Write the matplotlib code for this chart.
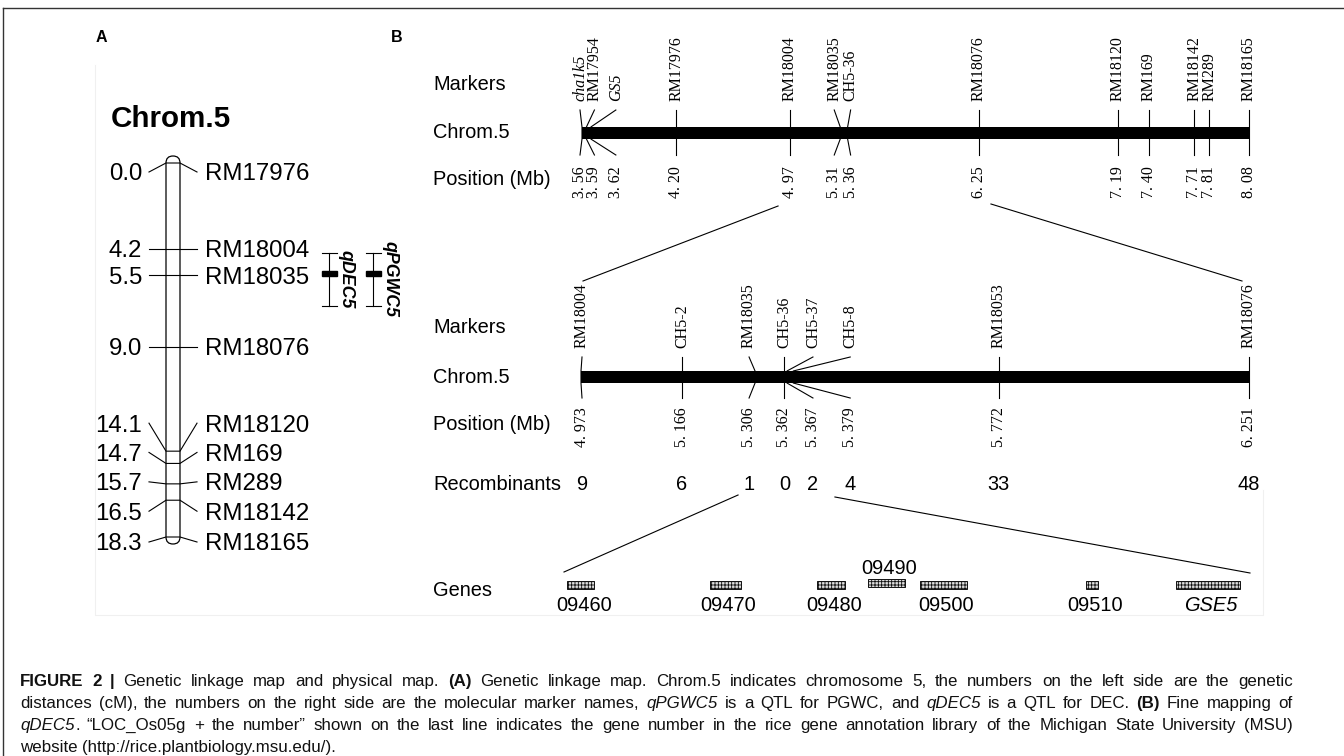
import matplotlib.pyplot as plt
from matplotlib.patches import Rectangle, FancyBboxPatch

W, H = 1344, 756
SANS  = ["Liberation Sans", "DejaVu Sans"]
SERIF = ["Liberation Serif", "DejaVu Serif"]

plt.rcParams["font.family"]     = SANS
plt.rcParams["hatch.linewidth"] = 0.6

# %%
# 데이터: A 유전 연관 지도 (cM)
a_cm      = [0.0, 4.2, 5.5, 9.0, 14.1, 14.7, 15.7, 16.5, 18.3]
a_markers = ["RM17976", "RM18004", "RM18035", "RM18076", "RM18120",
             "RM169", "RM289", "RM18142", "RM18165"]
qtl_names = ["qDEC5", "qPGWC5"]
qtl_start = [4.4, 4.4]
qtl_peak  = [5.4, 5.4]
qtl_end   = [7.0, 7.0]

# B 물리 지도 (Mb)
top_markers = ["cha1k5", "RM17954", "GS5", "RM17976", "RM18004", "RM18035", "CH5-36",
               "RM18076", "RM18120", "RM169", "RM18142", "RM289", "RM18165"]
top_mb      = [3.56, 3.59, 3.62, 4.20, 4.97, 5.31, 5.36, 6.25, 7.19, 7.40, 7.71, 7.81, 8.08]
top_italic  = ["cha1k5", "GS5"]

mid_markers  = ["RM18004", "CH5-2", "RM18035", "CH5-36", "CH5-37", "CH5-8", "RM18053", "RM18076"]
mid_mb       = [4.973, 5.166, 5.306, 5.362, 5.367, 5.379, 5.772, 6.251]
recombinants = [9, 6, 1, 0, 2, 4, 33, 48]

# 후보 구간(RM18035 ~ CH5-37) 내 유전자, 구간 시작점 기준 kb
gene_names    = ["09460", "09470", "09480", "09490", "09500", "09510", "GSE5"]
gene_start_kb = [0.3, 13.0, 22.5, 27.0, 31.7, 46.4, 54.4]
gene_end_kb   = [2.7, 15.7, 25.0, 30.3, 35.8, 47.5, 60.1]

# 레이아웃 (픽셀 오프셋: 라벨을 부채꼴로 벌림)
a_off  = [9, 0, 0, 0, -28, -11, -2, 11, 5]
top_dx = [-2, 8, 25, 0, 0, -6, 3, 0, 0, 0, 0, 0, 0]
mid_dx = [1, 0, -6, 0, 26, 57, 0, 0]

# 캡션: (텍스트, 스타일) 런, n=normal b=bold i=italic
caption = [
    [("FIGURE 2 |", "b"), (" Genetic linkage map and physical map. ", "n"), ("(A)", "b"),
     (" Genetic linkage map. Chrom.5 indicates chromosome 5, the numbers on the left side "
      "are the genetic", "n")],
    [("distances (cM), the numbers on the right side are the molecular marker names, ", "n"),
     ("qPGWC5", "i"), (" is a QTL for PGWC, and ", "n"), ("qDEC5", "i"),
     (" is a QTL for DEC. ", "n"), ("(B)", "b"), (" Fine mapping of", "n")],
    [("qDEC5", "i"), (". “LOC_Os05g + the number” shown on the last line indicates the gene "
                      "number in the rice gene annotation library of the Michigan State "
                      "University (MSU)", "n")],
    [("website (http://rice.plantbiology.msu.edu/).", "n")],
]

# %%
fig = plt.figure(figsize=(W / 100, H / 100), dpi=100)
cv = fig.add_axes([0, 0, 1, 1])
cv.set_xlim(0, W)
cv.set_ylim(H, 0)
cv.axis("off")
renderer = fig.canvas.get_renderer()


def h_scale(x0, x1, lo, hi):
    """x축만 데이터(Mb/kb), y축은 픽셀인 보조 축"""
    ax = fig.add_axes([x0 / W, 0, (x1 - x0) / W, 1])
    ax.set_xlim(lo, hi)
    ax.set_ylim(H, 0)
    ax.axis("off")
    ax.patch.set_visible(False)
    return ax


def to_px(ax, x, y):
    return cv.transData.inverted().transform(ax.transData.transform((x, y)))


LW = 0.8

# 외곽선
cv.plot([3, W], [8, 8], color="#333333", lw=1)
cv.plot([3, 3], [8, H], color="#333333", lw=1)
cv.plot([95, 95, 1263, 1263], [65, 615, 615, 490], color="#f0f0f0", lw=0.8)

cv.text(96, 42, "A", fontsize=11.5, weight="bold")
cv.text(391, 42, "B", fontsize=11.5, weight="bold")

# %%
# Panel A
ax_a = fig.add_axes([0, 1 - 537 / H, 1, (537 - 163) / H])
ax_a.set_xlim(0, W)
ax_a.set_ylim(max(a_cm), 0)
ax_a.axis("off")
ax_a.patch.set_visible(False)

BL, BR = 166, 180
ys = [to_px(ax_a, 0, c)[1] for c in a_cm]
cv.add_patch(FancyBboxPatch((BL, ys[0] - 7), BR - BL, ys[-1] - ys[0] + 14,
                            boxstyle="round,pad=0,rounding_size=7",
                            fc="white", ec="k", lw=0.9))
cv.text((BL + BR) / 2 - 2, 127, "Chrom.5", ha="center", va="baseline",
        fontsize=21.3, weight="bold")

for c, name, y, off in zip(a_cm, a_markers, ys, a_off):
    ly = y + off
    cv.plot([149, BL, BR, 197], [ly, y, y, ly], color="k", lw=LW)
    cv.text(142, ly + 8.5, f"{c:.1f}", ha="right", va="baseline", fontsize=17.3)
    cv.text(205, ly + 8.5, name, ha="left", va="baseline", fontsize=17.3)

for i, (name, s, p, e) in enumerate(zip(qtl_names, qtl_start, qtl_peak, qtl_end)):
    x = 329 + 44 * i
    y0, yp, y1 = (to_px(ax_a, 0, v)[1] for v in (s, p, e))
    cv.plot([x, x], [y0, y1], color="k", lw=LW)
    cv.plot([x - 7.5, x + 7.5], [y0, y0], color="k", lw=LW)
    cv.plot([x - 7.5, x + 7.5], [y1, y1], color="k", lw=LW)
    cv.add_patch(Rectangle((x - 7.5, yp - 2.5), 15, 5, color="k"))
    cv.text(x + 17, (y0 + y1) / 2, name, rotation=-90, ha="center", va="center",
            fontsize=12.8, weight="bold", style="italic")

# %%
# Panel B: 행 라벨
RX = 433
for txt, yb in [("Markers", 90), ("Chrom.5", 138), ("Position (Mb)", 185),
                ("Markers", 333), ("Chrom.5", 383), ("Position (Mb)", 430),
                ("Recombinants", 490), ("Genes", 596)]:
    cv.text(RX, yb, txt, ha="left", va="baseline", fontsize=14.4)


def draw_chrom(ax, names, mbs, dxs, tick_top, bar_top, bar_bot, tick_bot,
               lab_bot, pos_top, fmt, italic=()):
    x0 = to_px(ax, mbs[0], 0)[0]
    x1 = to_px(ax, mbs[-1], 0)[0]
    cv.add_patch(Rectangle((x0, bar_top), x1 - x0, bar_bot - bar_top, color="k", lw=0))
    lxs = []
    for name, mb, dx in zip(names, mbs, dxs):
        bx = to_px(ax, mb, 0)[0]
        lx = bx + dx
        lxs.append(lx)
        cv.plot([lx, bx, bx, lx], [tick_top, bar_top, bar_bot, tick_bot], color="k", lw=LW)
        cv.text(lx, lab_bot, name, rotation=90, ha="center", va="bottom", family=SERIF,
                fontsize=11.5, style="italic" if name in italic else "normal")
        cv.text(lx, pos_top, fmt(mb).replace(".", ". "), rotation=90, ha="center",
                va="top", family=SERIF, fontsize=11.5)
    return lxs


ax_t = h_scale(582, 1249, top_mb[0], top_mb[-1])
draw_chrom(ax_t, top_markers, top_mb, top_dx, 110, 127, 139, 155, 101, 166,
           lambda v: f"{v:.2f}", italic=top_italic)

ax_m = h_scale(581, 1249, mid_mb[0], mid_mb[-1])
mid_lx = draw_chrom(ax_m, mid_markers, mid_mb, mid_dx, 357, 371, 383, 398, 348, 407,
                    lambda v: f"{v:.3f}")
for lx, r in zip(mid_lx, recombinants):
    cv.text(lx, 490, str(r), ha="center", va="baseline", fontsize=14.4)

# 확대 연결선: 상단 → 중간
i4, i6 = top_markers.index("RM18004"), top_markers.index("RM18076")
p0 = to_px(ax_t, top_mb[i4], 206)
p1 = to_px(ax_m, mid_mb[0], 281)
cv.plot([p0[0] - 12, p1[0] + 2], [p0[1], p1[1]], color="k", lw=LW)
p0 = to_px(ax_t, top_mb[i6], 204)
p1 = to_px(ax_m, mid_mb[-1], 281)
cv.plot([p0[0] + 12, p1[0] - 7], [p0[1], p1[1]], color="k", lw=LW)

# %%
# Genes
j0, j1 = mid_markers.index("RM18035"), mid_markers.index("CH5-37")
span_kb = (mid_mb[j1] - mid_mb[j0]) * 1000
ax_g = h_scale(564, 1250, 0, span_kb)

g0 = to_px(ax_g, 0, 572)
g1 = to_px(ax_g, span_kb, 573)
cv.plot([mid_lx[j0] - 11, g0[0]], [495, g0[1]], color="k", lw=LW)
cv.plot([mid_lx[j1] + 22, g1[0]], [497, g1[1]], color="k", lw=LW)

for name, s, e in zip(gene_names, gene_start_kb, gene_end_kb):
    x0 = to_px(ax_g, s, 0)[0]
    x1 = to_px(ax_g, e, 0)[0]
    above = name == "09490"
    y0 = 579 if above else 581
    cv.add_patch(Rectangle((x0, y0), x1 - x0, 8, fc="#dddddd", ec="#111111",
                           lw=0.7, hatch="+++++"))
    cv.text((x0 + x1) / 2 + 3, 574 if above else 611, name, ha="center", va="baseline",
            fontsize=14.4, style="italic" if name == "GSE5" else "normal")

# %%
# 캡션: 양쪽 정렬 (마지막 줄 제외)
CAP_L, CAP_R, CAP_FS = 20, 1293, 12.2
STYLE = {"n": {}, "b": {"weight": "bold"}, "i": {"style": "italic"}}


def cap_words(runs):
    words = [[]]
    for text, st in runs:
        for k, part in enumerate(text.split(" ")):
            if k > 0:
                words.append([])
            if part:
                words[-1].append((part, st))
    return [w for w in words if w]


for k, runs in enumerate(caption):
    yb = 686 + 22 * k
    words = []
    for w in cap_words(runs):
        pieces = []
        for part, st in w:
            t = cv.text(0, yb, part, ha="left", va="baseline", fontsize=CAP_FS,
                        color="#111111", **STYLE[st])
            pieces.append((t, t.get_window_extent(renderer).width))
        words.append(pieces)
    widths = [sum(pw for _, pw in w) for w in words]
    last = k == len(caption) - 1
    gap = 4.7 if last else (CAP_R - CAP_L - sum(widths)) / (len(words) - 1)
    x = CAP_L
    for w, ww in zip(words, widths):
        xx = x
        for t, pw in w:
            t.set_x(xx)
            xx += pw + 0.6
        x += ww + gap

fig.savefig("out.png", dpi=100)
